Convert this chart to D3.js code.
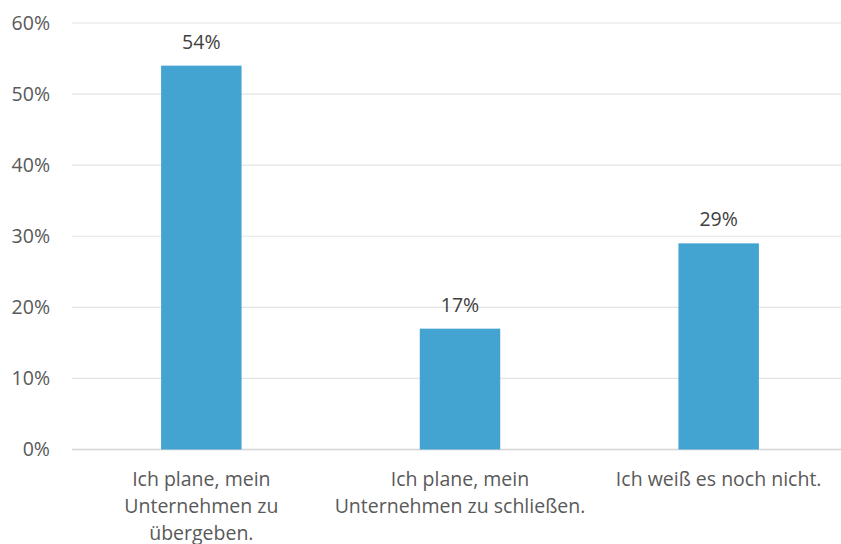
<!DOCTYPE html>
<html>
<head>
<meta charset="utf-8">
<script src="https://cdn.jsdelivr.net/npm/d3@7"></script>
<style>
  html, body { margin: 0; padding: 0; background: #fff; }
  svg { display: block; font-family: "Open Sans", sans-serif; }
</style>
</head>
<body>
<svg id="chart" width="841" height="544"></svg>
<script>
// Antworten (Anteil in %)
const categories = [
  ["Ich plane, mein", "Unternehmen zu", "übergeben."],
  ["Ich plane, mein", "Unternehmen zu schließen."],
  ["Ich weiß es noch nicht."]
];
const values = [54, 17, 29];
const yTicks = [0, 10, 20, 30, 40, 50, 60];

const svg = d3.select("#chart");
const margin = { left: 72, right: -7, top: 23, bottom: 94.5 };
const W = 841, H = 544;
const fontSize = "19.5px";

const x = d3.scaleBand()
  .domain(d3.range(categories.length))
  .range([margin.left, W - margin.right])
  .paddingInner(0.689)
  .paddingOuter(0.3445);

const y = d3.scaleLinear()
  .domain([0, 60])
  .range([H - margin.bottom, margin.top]);

// Gitterlinien
svg.append("g")
  .selectAll("line")
  .data(yTicks)
  .join("line")
  .attr("x1", margin.left)
  .attr("x2", W - margin.right)
  .attr("y1", d => y(d))
  .attr("y2", d => y(d))
  .attr("stroke", d => d === 0 ? "#d4d4d4" : "#e4e4e4")
  .attr("stroke-width", d => d === 0 ? 1.5 : 1.2);

// Y-Achse
const yAxis = svg.append("g")
  .attr("transform", `translate(${margin.left},0)`)
  .call(d3.axisLeft(y).tickValues(yTicks).tickFormat(d => d + "%").tickSize(0).tickPadding(22));
yAxis.select(".domain").remove();
yAxis.selectAll("text")
  .attr("fill", "#595959")
  .style("font-size", fontSize)
  .style("font-family", "'Open Sans', sans-serif");

// Balken
svg.append("g")
  .selectAll("rect")
  .data(values)
  .join("rect")
  .attr("x", (d, i) => x(i))
  .attr("width", x.bandwidth())
  .attr("y", d => y(d))
  .attr("height", d => y(0) - y(d))
  .attr("fill", "#43a4d2");

// Werte über den Balken
svg.append("g")
  .selectAll("text")
  .data(values)
  .join("text")
  .attr("x", (d, i) => x(i) + x.bandwidth() / 2)
  .attr("y", d => y(d) - 17)
  .attr("text-anchor", "middle")
  .attr("fill", "#404040")
  .style("font-size", fontSize)
  .text(d => d + "%");

// Kategoriebeschriftungen
const catG = svg.append("g")
  .selectAll("text")
  .data(categories)
  .join("text")
  .attr("x", (d, i) => x(i) + x.bandwidth() / 2)
  .attr("y", y(0) + 36.5)
  .attr("text-anchor", "middle")
  .attr("fill", "#595959")
  .style("font-size", fontSize);
catG.selectAll("tspan")
  .data(d => d)
  .join("tspan")
  .attr("x", function () { return d3.select(this.parentNode).attr("x"); })
  .attr("dy", (d, i) => i === 0 ? 0 : 27)
  .text(d => d);
</script>
</body>
</html>
